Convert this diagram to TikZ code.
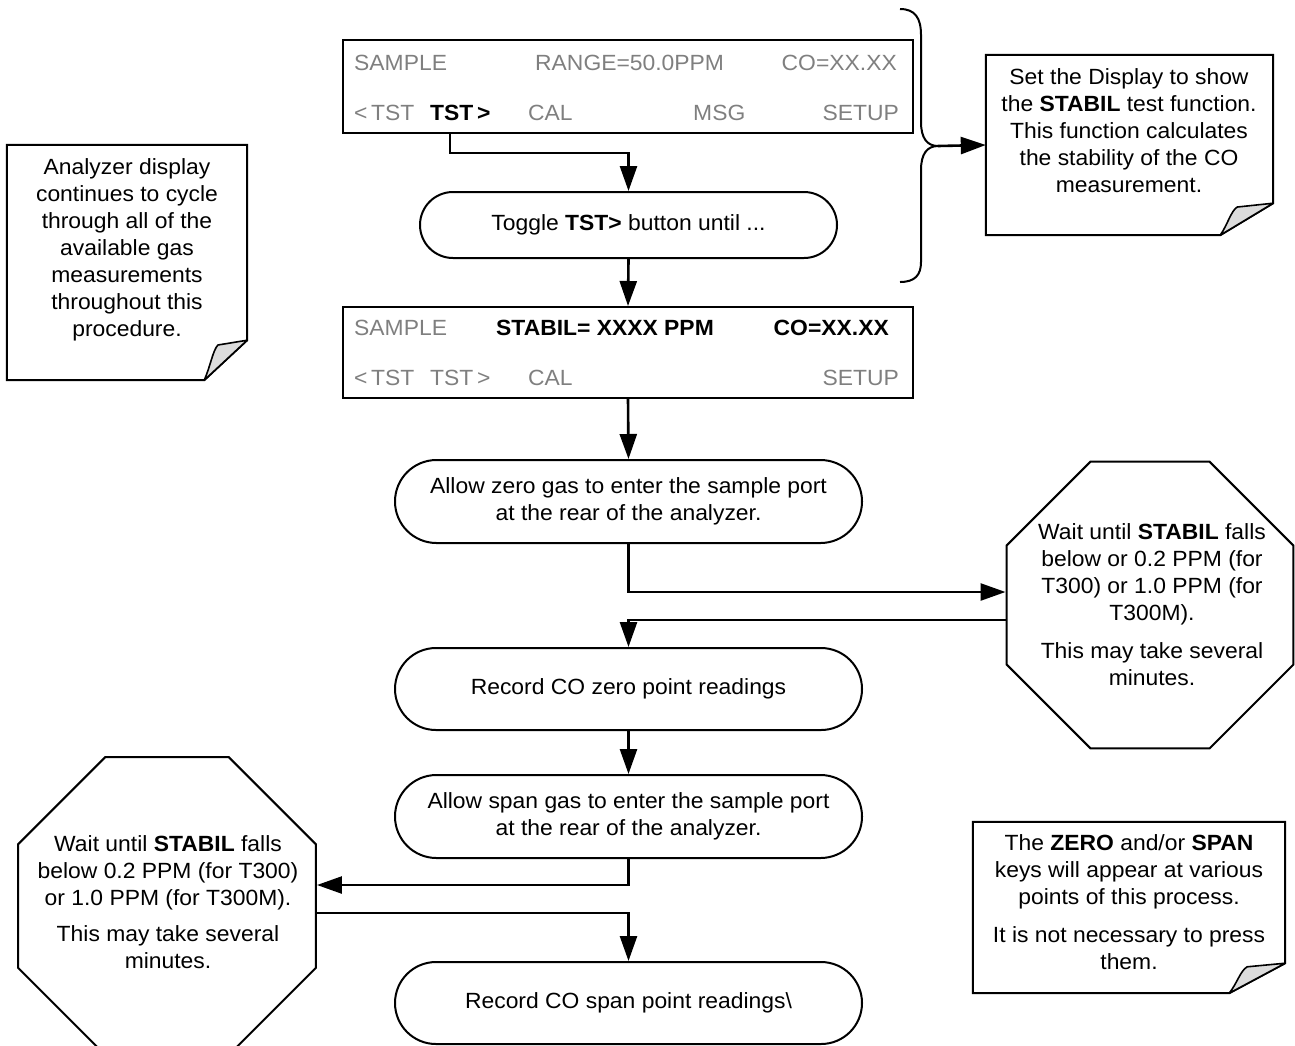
\documentclass[tikz,border=0pt]{standalone}
\usepackage{fontspec}
\setmainfont{Liberation Sans}[FakeStretch=1.04]
\usetikzlibrary{shapes.misc,shapes.geometric,arrows.meta}
\definecolor{dgray}{HTML}{7F7F7F}
\definecolor{foldgray}{HTML}{DCDCDC}
\newcommand\foldnote[3]{%
 \draw[line width=2pt, line join=miter] (#1.north west) -- (#1.north east) -- ([yshift=#3pt]#1.south east) -- ([xshift=-#2pt]#1.south east) -- (#1.south west) -- cycle;
 \draw[line width=1.6pt, fill=foldgray, line join=round] ([yshift=#3pt]#1.south east) -- ([xshift=-#2pt]#1.south east) .. controls ([xshift=-0.86*#2pt, yshift=0.33*#3pt]#1.south east) and ([xshift=-0.8*#2pt, yshift=0.75*#3pt]#1.south east) .. ([xshift=-0.68*#2pt, yshift=0.88*#3pt]#1.south east) -- cycle;}
\begin{document}
\begin{tikzpicture}[x=1pt,y=-1pt, font=\fontsize{22}{27}\selectfont,
  disp/.style={draw, line width=2pt, minimum width=570pt, inner sep=0},
  dtxt/.style={inner sep=0, text=dgray},
  dbold/.style={inner sep=0, font=\fontsize{22}{27}\selectfont\bfseries},
  stbox/.style={draw, line width=2pt, rounded rectangle, minimum width=467pt, minimum height=83pt, align=center, inner sep=0},
  oct/.style={draw, line width=2pt, regular polygon, regular polygon sides=8, inner sep=0},
  arr/.style={line width=2.6pt, -{Triangle[length=25pt,width=17pt]}},
  conn/.style={line width=2.6pt},
  notebox/.style={inner sep=0},
  ntxt/.style={align=center, inner sep=0}]
\useasboundingbox (0,0) rectangle (1295,1045);

% display 1
\node[disp, minimum height=93pt] (disp1) at (628,86.5) {};
\node[dtxt, anchor=base west] (d1a) at (354,70) {SAMPLE};
\node[dtxt, anchor=base west] (d1b) at (535,70) {RANGE=50.0PPM};
\node[dtxt, anchor=base east] (d1c) at (897,70) {CO=XX.XX};
\node[dtxt, anchor=base west] (d1d) at (354,120) {<\,TST};
\node[dbold, anchor=base west] (d1e) at (430,120) {TST\,>};
\node[dtxt, anchor=base west] (d1f) at (528,120) {CAL};
\node[dtxt, anchor=base west] (d1g) at (693,120) {MSG};
\node[dtxt, anchor=base east] (d1h) at (899,120) {SETUP};
\coordinate (tstout) at (450,133);

% toggle
\node[stbox, minimum width=417pt, minimum height=66pt] (toggle) at (628.5,225) {Toggle \textbf{TST>} button until ...};

% display 2
\node[disp, minimum height=91pt] (disp2) at (628,352.5) {};
\node[dtxt, anchor=base west] (d2a) at (354,335) {SAMPLE};
\node[dbold, anchor=base west] (d2b) at (496,335) {STABIL= XXXX PPM};
\node[dbold, anchor=base east] (d2c) at (889,335) {CO=XX.XX};
\node[dtxt, anchor=base west] (d2d) at (354,385) {<\,TST};
\node[dtxt, anchor=base west] (d2e) at (430,385) {TST\,>};
\node[dtxt, anchor=base west] (d2f) at (528,385) {CAL};
\node[dtxt, anchor=base east] (d2h) at (899,385) {SETUP};

% steps
\node[stbox] (zero) at (628.5,501.5) {Allow zero gas to enter the sample port\\at the rear of the analyzer.};
\node[stbox, minimum height=82pt] (rzero) at (628.5,689) {Record CO zero point readings};
\node[stbox] (span) at (628.5,816.5) {Allow span gas to enter the sample port\\at the rear of the analyzer.};
\node[stbox, minimum height=82pt] (rspan) at (628.5,1003) {Record CO span point readings\textbackslash};

% octagons
\node[oct, minimum size=310.6pt] (oct1) at (1150,605) {};
\node[ntxt] (oct1t) at (1152,604.5) {Wait until \textbf{STABIL} falls\\below or 0.2 PPM (for\\T300) or 1.0 PPM (for\\T300M).\\[11pt]This may take several\\minutes.};
\node[oct, minimum size=322.5pt] (oct2) at (167,906) {};
\node[ntxt] (oct2t) at (168,902.5) {Wait until \textbf{STABIL} falls\\below 0.2 PPM (for T300)\\or 1.0 PPM (for T300M).\\[9pt]This may take several\\minutes.};

% notes
\node[notebox, minimum width=240pt, minimum height=235pt] (n1) at (127,262.5) {};
\foldnote{n1}{43}{40}
\node[ntxt] (n1t) at (127,249.5) {Analyzer display\\continues to cycle\\through all of the\\available gas\\measurements\\throughout this\\procedure.};

\node[notebox, minimum width=287pt, minimum height=180pt] (n2) at (1129.5,145) {};
\foldnote{n2}{53}{32}
\node[ntxt] (n2t) at (1129,131) {Set the Display to show\\the \textbf{STABIL} test function.\\This function calculates\\the stability of the CO\\measurement.};

\node[notebox, minimum width=312pt, minimum height=171pt] (n3) at (1129,907.5) {};
\foldnote{n3}{56}{30}
\node[ntxt] (n3t) at (1129,902.5) {The \textbf{ZERO} and/or \textbf{SPAN}\\keys will appear at various\\points of this process.\\[11pt]It is not necessary to press\\them.};

% brace
\coordinate (bracetip) at (938,146);
\draw[line width=2pt] (900,9) .. controls (915,9) and (921,18) .. (921,35) -- (921,122) .. controls (921,138) and (927,146) .. (bracetip) .. controls (927,146) and (921,154) .. (921,170) -- (921,262) .. controls (921,275) and (915,282) .. (900,282);
\draw[arr] (bracetip) -- (n2.west);

% connectors
\draw[arr] (tstout) |- ([yshift=38pt]toggle.north) -- (toggle.north);
\draw[arr] (toggle.south) -- (disp2.north);
\draw[arr] (disp2.south) -- (zero.north);
\draw[arr] (zero.south) |- ([yshift=13pt]oct1.west);
\draw[arr] ([yshift=-15pt]oct1.west) -| (rzero.north);
\draw[arr] (rzero.south) -- (span.north);
\draw[arr] (span.south) |- ([yshift=21pt]oct2.east);
\draw[arr] ([yshift=-7pt]oct2.east) -| (rspan.north);
\end{tikzpicture}
\end{document}
